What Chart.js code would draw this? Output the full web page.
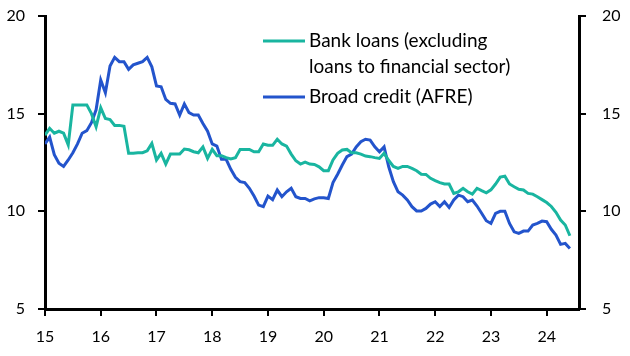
<!DOCTYPE html>
<html>
<head>
<meta charset="utf-8">
<script src="https://cdn.jsdelivr.net/npm/chart.js@4"></script>
<style>
  body { margin: 0; background: #fff; }
  #wrap { width: 630px; height: 356px; }
</style>
</head>
<body>
<div id="wrap"><canvas id="chart-credit" width="630" height="356"></canvas></div>
<script>
/* Bank loans vs broad credit, % y/y, monthly from Jan 2015 */

const startYear = 15;
const yearTicks = [15, 16, 17, 18, 19, 20, 21, 22, 23, 24];
const valueTicks = [5, 10, 15, 20];

const bankLoans = [
  13.9, 14.25, 14.0, 14.1, 14.0, 13.4, 15.45, 15.45, 15.45, 15.45, 15.0, 14.33,
  15.3, 14.75, 14.7, 14.4, 14.4, 14.35, 12.97, 12.97, 13.0, 13.0, 13.1, 13.48,
  12.63, 12.97, 12.42, 12.93, 12.93, 12.93, 13.19, 13.15, 13.05, 13.0, 13.3, 12.71,
  13.17, 12.85, 12.85, 12.75, 12.68, 12.75, 13.17, 13.17, 13.17, 13.05, 13.05, 13.45,
  13.38, 13.38, 13.69, 13.45, 13.34, 12.93, 12.59, 12.42, 12.52, 12.42, 12.4, 12.28,
  12.08, 12.08, 12.63, 12.97, 13.14, 13.17, 13.0, 13.0, 12.93, 12.83, 12.8, 12.75,
  12.71, 12.97, 12.6, 12.3, 12.2, 12.3, 12.3, 12.2, 12.08, 11.9, 11.89, 11.69,
  11.57, 11.47, 11.4, 11.4, 10.92, 11.0, 11.18, 11.0, 10.88, 11.18, 11.06, 10.95,
  11.1, 11.4, 11.75, 11.8, 11.4, 11.26, 11.13, 11.09, 10.92, 10.88, 10.75, 10.6,
  10.45, 10.25, 9.95, 9.55, 9.3, 8.75
];

const broadCredit = [
  13.45, 13.8, 12.9, 12.46, 12.3, 12.63, 13.0, 13.45, 14.0, 14.13, 14.54, 15.2,
  16.72, 16.07, 17.44, 17.88, 17.66, 17.66, 17.27, 17.5, 17.58, 17.66, 17.88, 17.4,
  16.42, 16.38, 15.73, 15.53, 15.5, 14.93, 15.5, 15.05, 14.93, 14.93, 14.5, 14.1,
  13.45, 13.34, 12.66, 12.66, 12.15, 11.74, 11.52, 11.47, 11.18, 10.78, 10.32, 10.24,
  10.78, 10.6, 11.09, 10.75, 11.0, 11.18, 10.75, 10.66, 10.66, 10.54, 10.64, 10.7,
  10.7, 10.66, 11.47, 11.9, 12.37, 12.8, 12.93, 13.3, 13.56, 13.69, 13.65, 13.3,
  13.05, 13.3, 12.28, 11.52, 11.0, 10.83, 10.58, 10.24, 10.02, 10.02, 10.15, 10.37,
  10.49, 10.24, 10.49, 10.2, 10.58, 10.83, 10.75, 10.49, 10.58, 10.27, 9.9, 9.52,
  9.38, 9.9, 10.0, 10.0, 9.38, 8.95, 8.87, 8.99, 8.99, 9.3, 9.38, 9.5,
  9.47, 9.08, 8.79, 8.31, 8.36, 8.1
];

const legendLines = [
  { color: '#19b5a0', text: ['Bank loans (excluding', 'loans to financial sector)'] },
  { color: '#2354cc', text: ['Broad credit (AFRE)'] }
];

const FONT = 'Lato, "Open Sans", sans-serif';

// month index -> fractional year on the x axis
function toPoints(values) {
    return values.map((v, i) => ({ x: startYear + i / 12, y: v }));
}

// legend is drawn by hand, upper middle of the plot
const legendPlugin = {
    id: 'handLegend',
    afterDraw(chart) {
        const ctx = chart.ctx;
        ctx.save();
        ctx.font = '19px ' + FONT;
        ctx.textBaseline = 'middle';
        ctx.fillStyle = '#000';
        let y = 41;
        legendLines.forEach(item => {
            ctx.strokeStyle = item.color;
            ctx.lineWidth = 3;
            ctx.beginPath();
            ctx.moveTo(263, y);
            ctx.lineTo(305, y);
            ctx.stroke();
            item.text.forEach(t => {
                ctx.fillText(t, 309, y);
                y += 26;
            });
            y += 4;
        });
        ctx.restore();
    }
};

function keepTicks(list) {
    return scale => { scale.ticks = list.map(v => ({ value: v })); };
}

// fixed width for a y axis; drop the label padding chart.js adds above/below
function fixY(width) {
    return s => {
        s.width = width;
        s.paddingTop = 0;
        s.paddingBottom = 0;
    };
}

const axisBorder = { display: true, color: '#000', width: 3 };
const axisGrid = { drawOnChartArea: false, drawTicks: true, tickLength: 7, color: '#000', lineWidth: 2 };

new Chart(document.getElementById('chart-credit').getContext('2d'), {
    type: 'line',
    data: {
        datasets: [
            {
                label: 'Bank loans',
                data: toPoints(bankLoans),
                borderColor: '#19b5a0',
                borderWidth: 3,
                pointRadius: 0,
                tension: 0
            },
            {
                label: 'Broad credit (AFRE)',
                data: toPoints(broadCredit),
                borderColor: '#2354cc',
                borderWidth: 3,
                pointRadius: 0,
                tension: 0
            }
        ]
    },
    options: {
        responsive: false,
        animation: false,
        layout: { padding: { top: 16, left: 0, right: 0, bottom: 0 } },
        plugins: { legend: { display: false }, tooltip: { enabled: false } },
        scales: {
            x: {
                type: 'linear',
                min: 15,
                max: 24.58,
                afterBuildTicks: keepTicks(yearTicks),
                afterFit: s => { s.height = 47; },
                border: axisBorder,
                grid: axisGrid,
                ticks: { color: '#000', font: { family: FONT, size: 16 }, padding: 11, maxRotation: 0 }
            },
            y: {
                position: 'left',
                min: 5,
                max: 20,
                afterBuildTicks: keepTicks(valueTicks),
                afterFit: fixY(45),
                border: axisBorder,
                grid: axisGrid,
                ticks: { color: '#000', font: { family: FONT, size: 16 }, padding: 13 }
            },
            y2: {
                position: 'right',
                min: 5,
                max: 20,
                afterBuildTicks: keepTicks(valueTicks),
                afterFit: fixY(51),
                border: axisBorder,
                grid: axisGrid,
                ticks: { color: '#000', font: { family: FONT, size: 16 }, padding: 16 }
            }
        }
    },
    plugins: [legendPlugin]
});
</script>
</body>
</html>
